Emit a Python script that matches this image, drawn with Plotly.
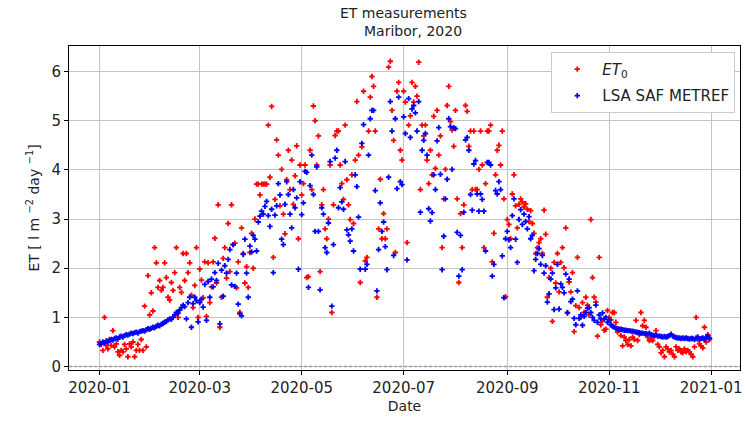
import pandas as pd
import plotly.graph_objects as go

dates = pd.date_range("2020-01-01", "2020-12-31", freq="D")

et0 = [
    0.50, 0.45, 0.33, 1.00, 0.43, 0.36, 0.55, 0.43, 0.73, 0.40,
    0.46, 0.30, 0.23, 0.33, 0.30, 0.45, 0.36, 0.20, 0.46, 0.40,
    0.50, 0.20, 0.33, 0.45, 0.33, 0.55, 0.33, 1.23, 0.40, 1.85,
    1.05, 1.50, 1.13, 2.42, 2.11, 1.61, 1.75, 1.55, 1.61, 2.11,
    1.81, 1.41, 1.35, 1.71, 1.55, 1.91, 2.42, 1.00, 1.61, 1.51,
    2.30, 1.75, 2.30, 1.91, 2.11, 1.45, 1.20, 1.65, 2.42, 1.00,
    1.98, 1.76, 1.40, 2.13, 1.02, 2.11, 1.30, 1.62, 2.13, 2.61,
    1.70, 3.29, 0.80, 1.41, 2.20, 2.42, 1.80, 2.91, 1.93, 3.29,
    2.48, 2.51, 1.60, 2.13, 1.10, 2.82, 2.30, 1.70, 2.03, 1.61,
    2.32, 2.71, 2.00, 3.00, 3.71, 3.71, 3.49, 3.71, 3.71, 3.71,
    3.71, 4.91, 3.85, 5.29, 2.22, 3.40, 4.61, 4.30, 3.27, 4.01,
    3.10, 2.70, 3.80, 4.40, 3.60, 4.20, 3.30, 3.88, 4.49, 2.60,
    4.10, 3.49, 3.72, 4.10, 1.81, 1.83, 4.40, 3.60, 5.30, 5.00,
    4.10, 4.69, 1.93, 3.29, 3.60, 2.80, 2.60, 3.00, 4.10, 1.10,
    3.29, 4.70, 4.79, 4.79, 4.10, 3.72, 3.40, 4.91, 3.80, 3.29,
    2.99, 3.90, 2.91, 4.20, 5.39, 4.30, 1.71, 4.47, 5.60, 2.15,
    2.22, 4.79, 5.48, 5.90, 5.70, 4.79, 1.41, 2.80, 3.81, 2.60,
    3.11, 2.60, 2.80, 6.09, 6.21, 5.21, 4.60, 2.32, 5.60, 5.78,
    4.40, 4.20, 5.60, 5.38, 2.52, 4.91, 5.10, 5.78, 5.38, 5.70,
    5.50, 6.19, 3.60, 4.91, 4.69, 4.91, 4.20, 3.72, 4.40, 3.90,
    5.09, 4.03, 5.21, 4.30, 4.69, 2.42, 3.41, 4.01, 5.31, 5.70,
    4.98, 4.81, 4.48, 5.21, 3.41, 1.71, 3.11, 2.42, 3.29, 5.31,
    5.19, 4.48, 4.79, 3.60, 4.79, 3.60, 3.60, 4.01, 4.79, 4.10,
    2.42, 3.72, 4.79, 4.79, 4.91, 2.13, 2.71, 3.90, 4.40, 4.50,
    4.10, 4.79, 3.41, 1.42, 2.99, 2.89, 2.60, 3.51, 3.90, 3.27,
    2.82, 3.30, 3.41, 3.35, 3.25, 3.31, 3.20, 2.95, 3.17, 2.91,
    2.71, 2.30, 2.42, 2.52, 2.60, 2.30, 3.18, 2.69, 1.41, 1.81,
    2.00, 0.92, 2.12, 1.70, 2.30, 1.52, 2.12, 2.42, 2.01, 2.82,
    1.10, 1.72, 1.52, 1.91, 0.71, 1.24, 2.22, 1.20, 1.00, 1.30,
    1.10, 1.41, 1.25, 1.05, 2.99, 1.81, 1.41, 1.31, 0.62, 2.22,
    0.85, 0.93, 0.74, 0.76, 1.14, 1.00, 0.95, 1.10, 1.10, 0.90,
    0.70, 0.75, 0.63, 0.42, 0.60, 0.53, 0.45, 0.55, 0.42, 0.60,
    0.55, 0.94, 0.53, 0.65, 1.10, 0.83, 0.94, 0.80, 0.60, 0.53,
    0.55, 0.53, 0.62, 0.73, 0.45, 0.40, 0.28, 0.33, 0.20, 0.40,
    0.36, 0.30, 0.33, 0.25, 0.20, 0.40, 0.33, 0.36, 0.30, 0.28,
    0.36, 0.30, 0.33, 0.30, 0.25, 0.20, 0.40, 1.00, 0.55, 0.46,
    0.42, 0.38, 0.80, 0.50, 0.65, 0.55,
]

metref = [
    0.45, 0.47, 0.50, 0.48, 0.52, 0.50, 0.53, 0.55, 0.54, 0.57,
    0.58, 0.56, 0.60, 0.62, 0.60, 0.63, 0.65, 0.64, 0.66, 0.68,
    0.67, 0.69, 0.70, 0.68, 0.71, 0.72, 0.73, 0.72, 0.75, 0.77,
    0.76, 0.78, 0.80, 0.79, 0.82, 0.84, 0.83, 0.86, 0.88, 0.90,
    0.92, 0.95, 0.97, 0.96, 1.00, 1.05, 1.10, 1.08, 1.15, 1.20,
    1.25, 1.22, 0.97, 1.30, 1.41, 0.80, 1.28, 1.41, 1.34, 0.91,
    1.30, 1.37, 1.21, 1.67, 0.94, 1.73, 1.41, 1.78, 1.62, 1.91,
    1.75, 2.10, 0.87, 1.96, 1.43, 2.05, 1.90, 2.18, 2.38, 1.66,
    2.48, 1.63, 1.90, 1.27, 1.07, 1.03, 2.28, 2.59, 1.90, 1.41,
    2.45, 2.33, 2.67, 2.59, 2.35, 2.94, 3.06, 3.16, 3.10, 3.26,
    3.36, 3.07, 2.85, 3.20, 1.91, 3.08, 3.27, 3.72, 3.49, 2.59,
    2.48, 3.30, 3.76, 3.50, 3.10, 2.82, 3.60, 3.23, 3.43, 1.98,
    3.76, 3.09, 3.33, 3.97, 3.95, 1.61, 3.68, 4.30, 3.50, 2.75,
    4.06, 2.75, 1.56, 3.23, 3.10, 2.42, 2.32, 2.92, 4.17, 1.23,
    2.48, 4.24, 4.40, 3.23, 3.64, 3.35, 3.20, 4.17, 2.78, 2.68,
    2.55, 2.80, 2.35, 3.90, 3.66, 3.04, 1.98, 4.54, 4.92, 1.98,
    2.08, 4.30, 5.04, 5.21, 5.21, 3.58, 1.54, 2.38, 3.33, 2.75,
    2.94, 2.44, 1.97, 3.85, 5.39, 4.79, 2.26, 5.04, 3.62, 5.48,
    3.76, 3.70, 5.08, 4.74, 2.17, 5.45, 4.66, 5.24, 5.31, 5.16,
    4.79, 5.39, 3.14, 4.40, 4.60, 4.74, 4.30, 3.21, 2.96, 3.13,
    3.90, 3.60, 4.59, 4.86, 3.91, 1.97, 2.65, 3.41, 3.81, 5.04,
    4.88, 4.01, 4.86, 4.84, 2.73, 1.84, 2.67, 1.97, 3.14, 4.61,
    4.66, 4.40, 3.50, 3.18, 4.12, 4.19, 3.51, 3.16, 3.51, 3.40,
    3.16, 2.35, 4.15, 4.15, 4.10, 1.84, 2.08, 3.58, 3.51, 3.76,
    3.60, 2.25, 1.40, 2.60, 2.75, 2.58, 2.42, 3.07, 3.41, 2.59,
    2.12, 2.99, 3.19, 2.89, 3.10, 2.95, 2.80, 3.05, 2.60, 2.67,
    1.95, 2.18, 2.30, 2.40, 2.08, 2.26, 1.90, 2.05, 1.31, 1.48,
    1.78, 1.90, 1.16, 1.60, 2.08, 1.17, 1.68, 1.61, 1.50, 1.88,
    1.09, 1.78, 1.32, 1.37, 0.98, 0.85, 1.54, 0.98, 1.05, 0.84,
    1.02, 1.10, 1.19, 1.20, 1.10, 1.00, 0.94, 1.25, 0.90, 1.05,
    0.97, 1.09, 0.97, 1.00, 0.90, 0.95, 0.85, 0.82, 0.80, 0.78,
    0.77, 0.76, 0.76, 0.75, 0.74, 0.74, 0.73, 0.73, 0.72, 0.72,
    0.71, 0.70, 0.70, 0.69, 0.68, 0.68, 0.67, 0.67, 0.66, 0.68,
    0.65, 0.64, 0.63, 0.64, 0.62, 0.62, 0.61, 0.60, 0.61, 0.60,
    0.61, 0.63, 0.66, 0.62, 0.60, 0.59, 0.58, 0.58, 0.57, 0.58,
    0.57, 0.58, 0.57, 0.56, 0.57, 0.57, 0.55, 0.58, 0.60, 0.56,
    0.57, 0.58, 0.55, 0.60, 0.62, 0.58,
]

tick_dates = ["2020-01-01", "2020-03-01", "2020-05-01", "2020-07-01",
              "2020-09-01", "2020-11-01", "2021-01-01"]
tick_labels = ["2020-01", "2020-03", "2020-05", "2020-07",
               "2020-09", "2020-11", "2021-01"]
y_ticks = [0, 1, 2, 3, 4, 5, 6]

FONT = "DejaVu Sans"

fig = go.Figure()
fig.add_trace(go.Scatter(
    x=dates, y=et0, mode="markers", name="<i>ET</i><sub>0</sub>",
    legendgroup="a",
    marker=dict(symbol="cross", size=4.5, color="red", line=dict(width=0)),
))
fig.add_trace(go.Scatter(
    x=dates, y=metref, mode="markers", name="LSA SAF METREF",
    legendgroup="b",
    marker=dict(symbol="cross", size=4.5, color="blue", line=dict(width=0)),
))

fig.add_hline(y=0, line=dict(color="#a0a0a0", width=1.5, dash="3px,2px"))

fig.update_layout(
    width=745, height=422,
    margin=dict(l=69, r=3, t=46, b=52),
    paper_bgcolor="white", plot_bgcolor="white",
    font=dict(family=FONT, size=15, color="#222"),
    showlegend=True,
    legend=dict(
        x=0.993, y=0.982, xanchor="right", yanchor="top",
        bgcolor="white", bordercolor="#cccccc", borderwidth=1,
        itemwidth=40, tracegroupgap=4,
        font=dict(family=FONT, size=15, color="#222"),
    ),
    annotations=[
        dict(text="ET measurements", x=0.498, y=1.102, xref="paper", yref="paper",
             showarrow=False, xanchor="center", yanchor="middle",
             font=dict(family=FONT, size=14, color="#222")),
        dict(text="Maribor, 2020", x=0.513, y=1.046, xref="paper", yref="paper",
             showarrow=False, xanchor="center", yanchor="middle",
             font=dict(family=FONT, size=14, color="#222")),
    ],
)

fig.update_xaxes(
    type="date",
    range=["2019-12-13 18:00", "2021-01-18 06:00"],
    tickvals=tick_dates, ticktext=tick_labels,
    tickfont=dict(family=FONT, size=15),
    showgrid=True, gridcolor="#c4c4c4", gridwidth=1.2,
    showline=True, linecolor="black", linewidth=1, mirror=True,
    ticks="outside", ticklen=4, tickcolor="black",
    zeroline=False,
    title=dict(text="Date", font=dict(family=FONT, size=14), standoff=5),
)
fig.update_yaxes(
    range=[-0.07, 6.52],
    tickvals=y_ticks,
    tickfont=dict(family=FONT, size=15),
    showgrid=True, gridcolor="#c4c4c4", gridwidth=1.2,
    showline=True, linecolor="black", linewidth=1, mirror=True,
    ticks="outside", ticklen=4, tickcolor="black",
    zeroline=False,
    title=dict(text="ET [ l m <sup>\u22122</sup> day <sup>\u22121</sup>]",
               font=dict(family=FONT, size=14), standoff=8),
)

fig.write_html("out.html")
